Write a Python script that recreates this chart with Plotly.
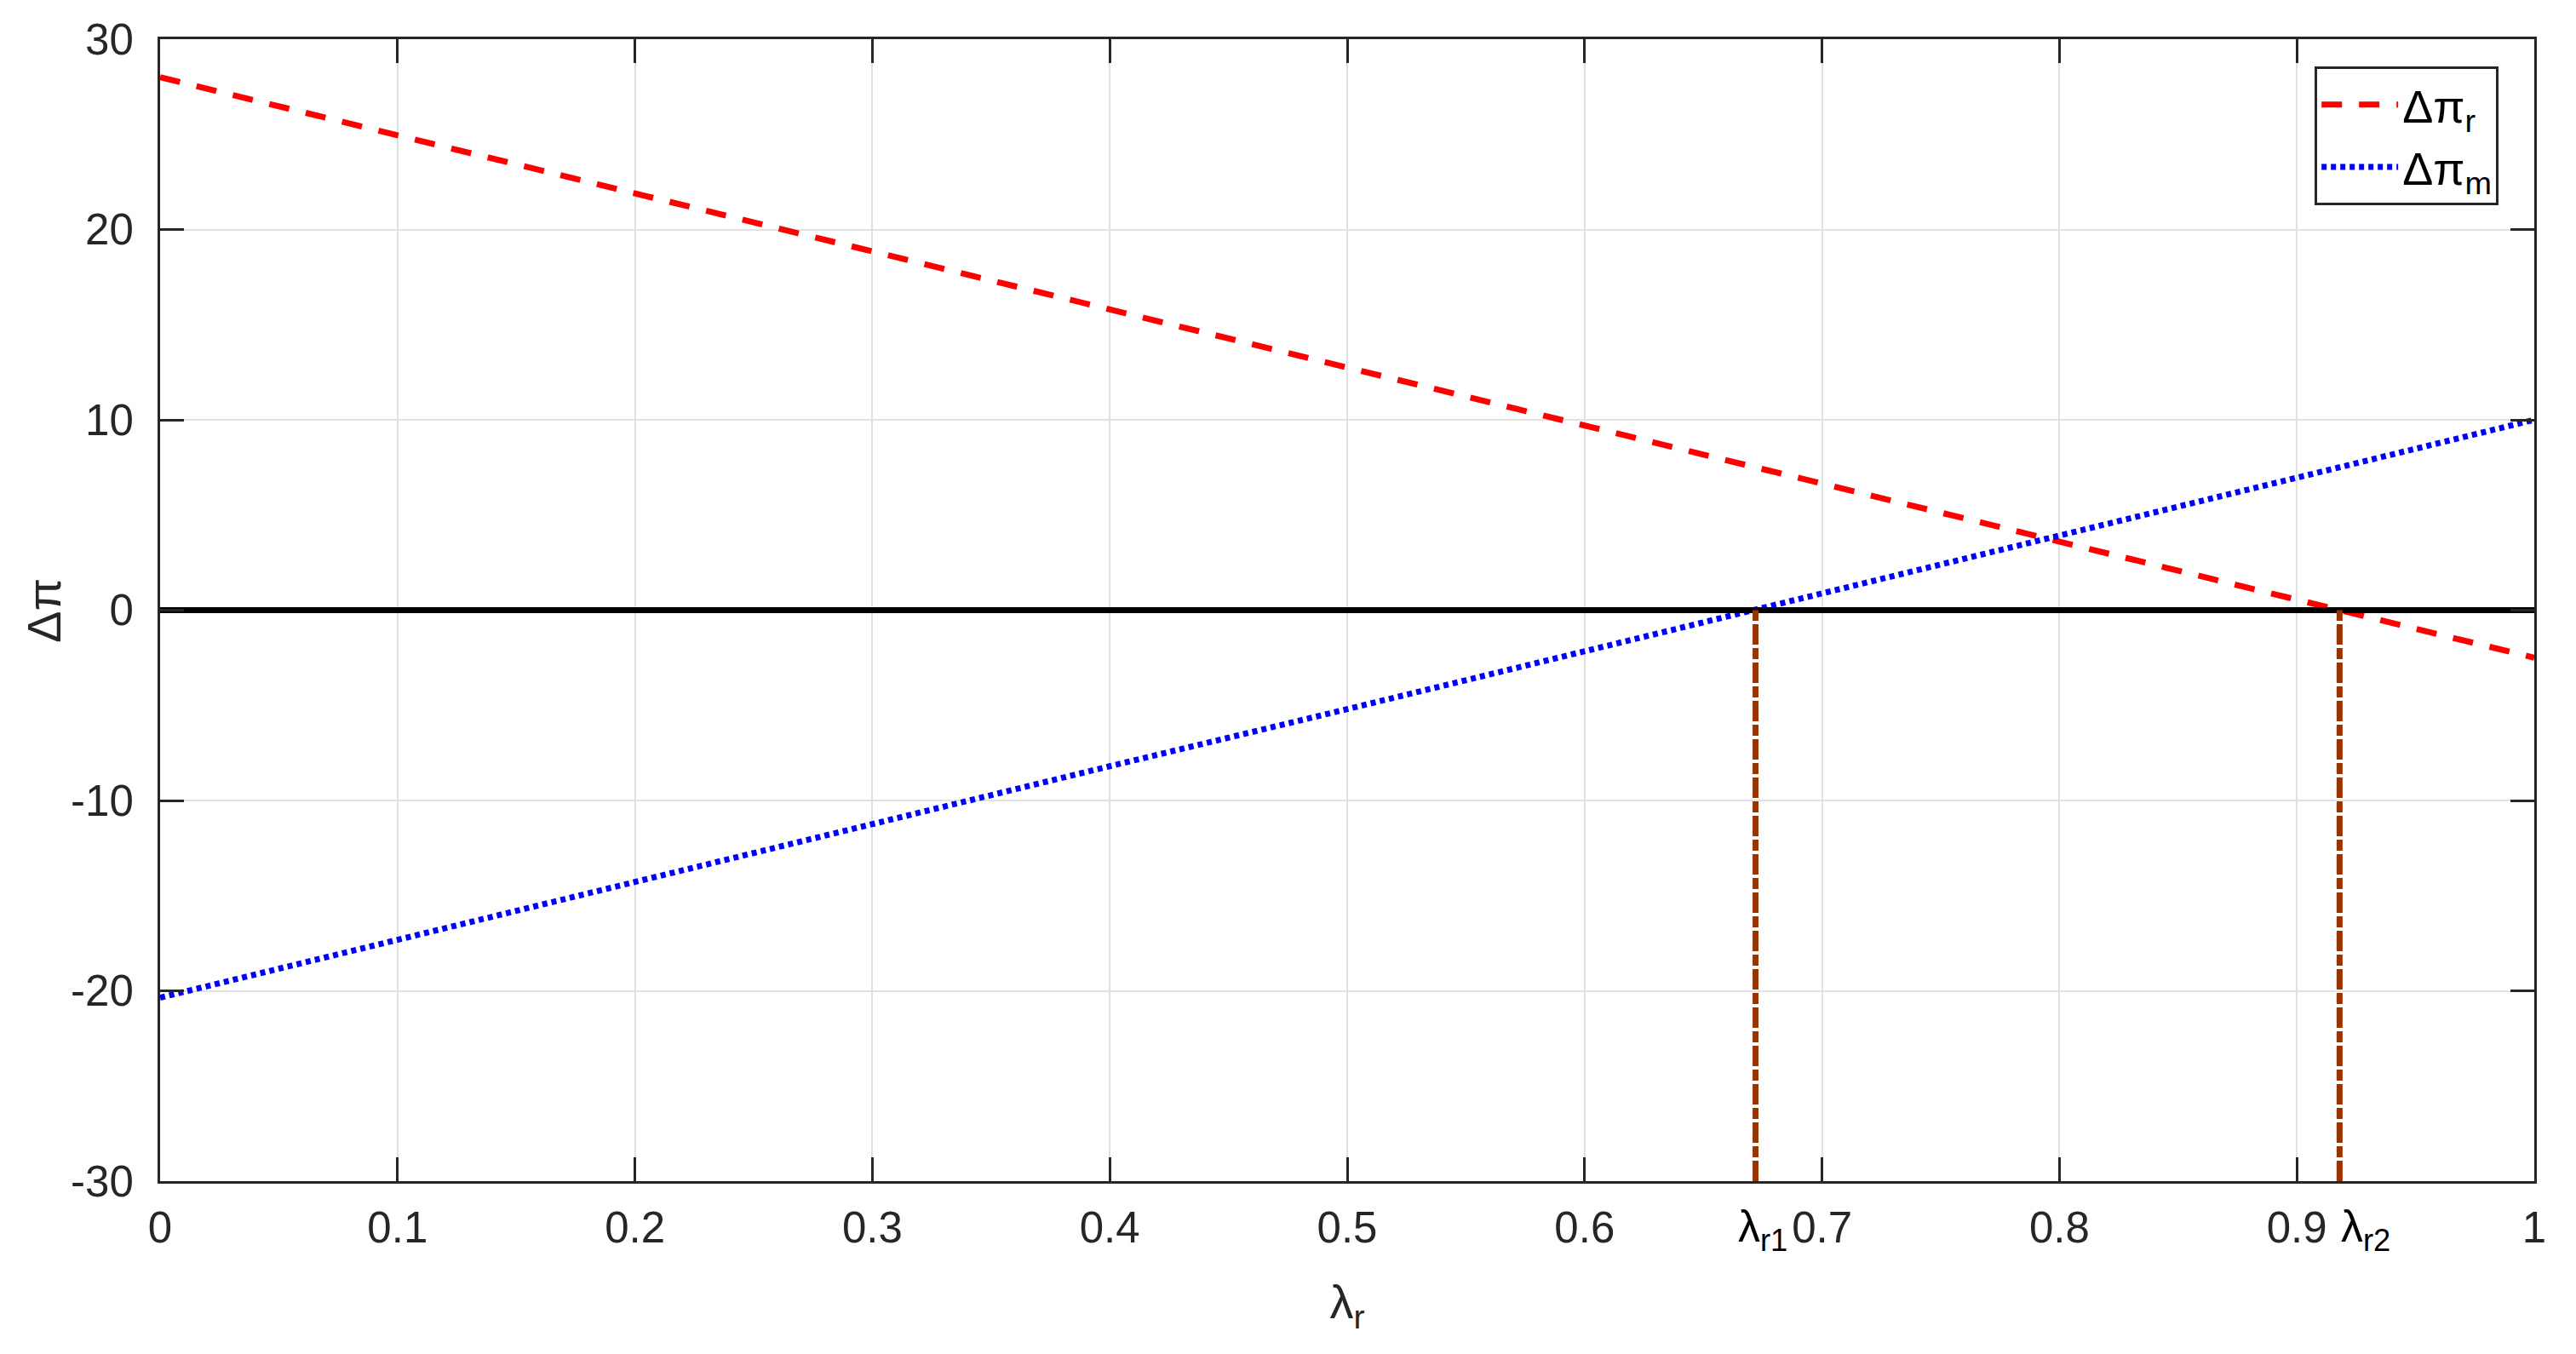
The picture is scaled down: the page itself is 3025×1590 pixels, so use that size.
import plotly.graph_objects as go

# lambda_r grid and the two profit differences
lam = [0, 0.1, 0.2, 0.3, 0.4, 0.5, 0.6, 0.7, 0.8, 0.9, 1.0]
d_pi_r = [28.0, 24.95, 21.9, 18.85, 15.8, 12.75, 9.7, 6.65, 3.6, 0.55, -2.5]
d_pi_m = [-20.36, -17.3, -14.3, -11.25, -8.2, -5.2, -2.15, 0.9, 3.95, 7.0, 10.0]

# thresholds where each curve crosses zero
lam_r1 = 0.672
lam_r2 = 0.918

x_ticks = [0, 0.1, 0.2, 0.3, 0.4, 0.5, 0.6, 0.7, 0.8, 0.9, 1]
x_labels = ["0", "0.1", "0.2", "0.3", "0.4", "0.5", "0.6", "0.7", "0.8", "0.9", "1"]
y_ticks = [-30, -20, -10, 0, 10, 20, 30]
y_labels = ["-30", "-20", "-10", "0", "10", "20", "30"]

FONT = "Liberation Sans, Arial, sans-serif"
AX = "rgb(38,38,38)"
BROWN = "rgb(153,51,0)"

fig = go.Figure()
fig.add_trace(go.Scatter(x=lam, y=d_pi_r, mode="lines", name="Δπ<sub>r</sub>",
                         line=dict(color="red", width=7, dash="24px,20px")))
fig.add_trace(go.Scatter(x=lam, y=d_pi_m, mode="lines", name="Δπ<sub>m</sub>",
                         line=dict(color="blue", width=7, dash="6px,5px")))
fig.add_trace(go.Scatter(x=[lam[0], lam[-1]], y=[0, 0], mode="lines", showlegend=False,
                         line=dict(color="black", width=7)))
for xv in (lam_r1, lam_r2):
    fig.add_trace(go.Scatter(x=[xv, xv], y=[y_ticks[0], 0], mode="lines", showlegend=False,
                             line=dict(color=BROWN, width=7, dash="24px,4px,13px,4px")))

# threshold labels under the x axis
for xv, txt in ((lam_r1 - 0.008, "λ<sub>r1</sub>"), (lam_r2, "λ<sub>r2</sub>")):
    fig.add_annotation(x=xv, y=0, xref="x", yref="paper", text=txt, showarrow=False,
                       xanchor="left", yanchor="top", yshift=-22,
                       font=dict(family=FONT, size=52, color="black"))

# y axis title placed by hand (title standoff is clipped to the margin)
fig.add_annotation(x=-0.049, y=0.5, xref="paper", yref="paper", text="Δπ",
                   showarrow=False, textangle=-90, xanchor="center", yanchor="middle",
                   font=dict(family=FONT, size=56, color=AX))

axis_common = dict(showline=True, linecolor=AX, linewidth=3, mirror="ticks",
                   ticks="inside", ticklen=28, tickwidth=3, tickcolor=AX,
                   showgrid=True, gridcolor="rgb(225,225,225)", gridwidth=2,
                   zeroline=False, automargin=False,
                   tickfont=dict(family=FONT, size=51, color=AX))

fig.update_xaxes(range=[0, 1], tickvals=x_ticks, ticktext=x_labels, ticklabelstandoff=8,
                 title=dict(text="λ<sub>r</sub>", font=dict(family=FONT, size=56, color=AX),
                            standoff=40),
                 **axis_common)
fig.update_yaxes(range=[-30, 30], tickvals=y_ticks, ticktext=y_labels, ticklabelstandoff=18,
                 **axis_common)

fig.update_layout(
    width=3025, height=1590,
    margin=dict(l=188, r=49, t=46, b=203),
    plot_bgcolor="white", paper_bgcolor="white",
    legend=dict(x=0.985, y=0.976, xanchor="right", yanchor="top",
                bgcolor="white", bordercolor=AX, borderwidth=3,
                font=dict(family=FONT, size=54, color="black"), itemwidth=90),
)

fig.write_html("out.html", config={"displayModeBar": False},
               post_script="document.body.style.margin='0';")
